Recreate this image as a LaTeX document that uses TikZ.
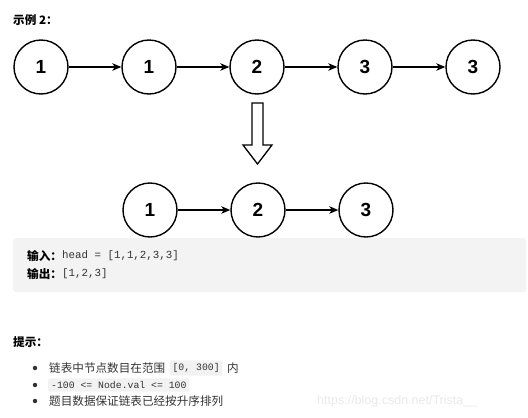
\documentclass[tikz,border=0pt]{standalone}
\usepackage{fontspec}
\setmainfont{Liberation Sans}
\setmonofont{Liberation Mono}
\newfontfamily\cjk{Noto Sans CJK SC}
\usetikzlibrary{arrows.meta,positioning}
\definecolor{boxgray}{HTML}{F3F3F3}
\definecolor{codegray}{HTML}{F2F2F2}
\definecolor{txt}{HTML}{333333}
\definecolor{wm}{HTML}{E9E9E9}
\tikzset{
  circ/.style={circle,draw=black,line width=1.4pt,minimum size=54pt,inner sep=0pt,
    font=\fontsize{19}{20}\selectfont\bfseries},
  arr/.style={-{Stealth[length=9pt,width=7.5pt,inset=2.5pt]},line width=1.2pt},
  lbl/.style={anchor=west,inner sep=0pt,text=txt},
  cn/.style={font=\cjk\fontsize{11.6}{14}\selectfont},
  cnb/.style={font=\cjk\bfseries\fontsize{11.6}{14}\selectfont},
  mono/.style={font=\ttfamily\fontsize{10.8}{12}\selectfont},
  codebox/.style={fill=codegray,rounded corners=2pt,inner xsep=3pt,inner ysep=3pt,
    text=txt,font=\ttfamily\fontsize{9.8}{12}\selectfont},
  bullet/.style={circle,fill=txt,inner sep=0pt,minimum size=4.5pt},
}
\begin{document}
\begin{tikzpicture}[x=1pt,y=-1pt]
\useasboundingbox (0,0) rectangle (528,418);
% title
\node[lbl,cnb,text=black] (title) at (13,20) {示例 2：};
% top row
\node[circ] (a1) at (41,67) {1};
\node[circ] (a2) at (149,67) {1};
\node[circ] (a3) at (257,67) {2};
\node[circ] (a4) at (365,67) {3};
\node[circ] (a5) at (473,67) {3};
\draw[arr] (a1) -- (a2);
\draw[arr] (a2) -- (a3);
\draw[arr] (a3) -- (a4);
\draw[arr] (a4) -- (a5);
% block arrow
\draw[line width=1.3pt,line join=miter,fill=white]
  (252,103) -- (263,103) -- (263,145) -- (272,145) -- (257.5,164) -- (243,145) -- (252,145) -- cycle;
% bottom row
\node[circ] (b1) at (150,210) {1};
\node[circ] (b2) at (258,210) {2};
\node[circ] (b3) at (366,210) {3};
\draw[arr] (b1) -- (b2);
\draw[arr] (b2) -- (b3);
% example box
\node[fill=boxgray,rounded corners=3pt,minimum width=513pt,minimum height=54pt,anchor=north west,inner sep=0pt] (box) at (13,238) {};
\node[lbl,cnb,text=black] (in) at (27,256) {输入：};
\node[lbl,mono] (inv) at (62,256) {head = [1,1,2,3,3]};
\node[lbl,cnb,text=black] (out) at (27,274) {输出：};
\node[lbl,mono] (outv) at (62,274) {[1,2,3]};
% hints
\node[lbl,cnb,text=black] (hint) at (13,342) {提示：};
\node[bullet] (d1) at (35,368) {};
\node[bullet] (d2) at (35,385) {};
\node[bullet] (d3) at (35,401) {};
\node[lbl,cn] (h1) at (49,368) {链表中节点数目在范围};
\node[codebox,right=4pt of h1] (c1) {[0, 300]};
\node[lbl,cn,right=4pt of c1] (h1b) {内};
\node[codebox,anchor=west] (c2) at (48,385) {-100 <= Node.val <= 100};
\node[lbl,cn] (h3) at (49,401) {题目数据保证链表已经按升序排列};
% watermark
\node[anchor=west,inner sep=0pt,text=wm,font=\fontsize{12.5}{14}\selectfont] (wmk) at (317,401) {https://blog.csdn.net/Trista\_\_};
\end{tikzpicture}
\end{document}
